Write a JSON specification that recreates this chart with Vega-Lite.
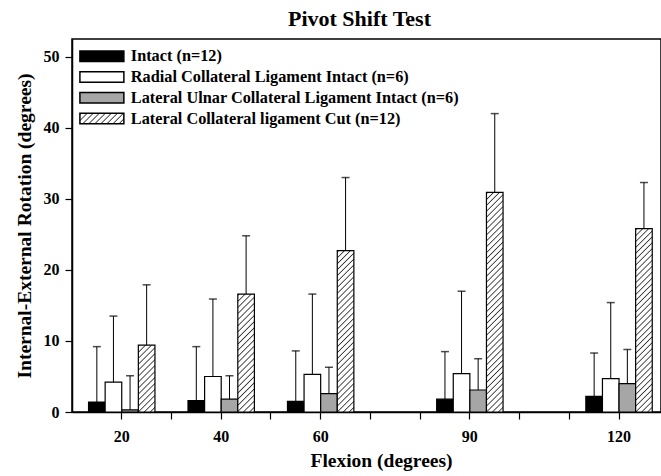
{
  "$schema": "https://vega.github.io/schema/vega-lite/v6.json",
  "autosize": {"type": "none"},
  "width": 589,
  "height": 373,
  "padding": {"left": 72, "top": 39, "right": 0, "bottom": 64},
  "background": "white",
  "config": {
    "view": {"stroke": "black", "strokeWidth": 1.5},
    "font": "Liberation Serif"
  },
  "title": {"text": "Pivot Shift Test", "font": "Liberation Serif", "fontWeight": "bold", "fontSize": 22, "color": "black", "anchor": "middle", "frame": "group", "offset": 8, "dx": -7},
  "data": {
    "values": [
      {"flexion": 20, "group": "Intact (n=12)", "mean": 1.4, "upper": 9.2},
      {"flexion": 20, "group": "Radial Collateral Ligament Intact (n=6)", "mean": 4.2, "upper": 13.5},
      {"flexion": 20, "group": "Lateral Ulnar Collateral Ligament Intact (n=6)", "mean": 0.3, "upper": 5.1},
      {"flexion": 20, "group": "Lateral Collateral ligament Cut (n=12)", "mean": 9.4, "upper": 17.9},
      {"flexion": 40, "group": "Intact (n=12)", "mean": 1.6, "upper": 9.2},
      {"flexion": 40, "group": "Radial Collateral Ligament Intact (n=6)", "mean": 5.0, "upper": 15.9},
      {"flexion": 40, "group": "Lateral Ulnar Collateral Ligament Intact (n=6)", "mean": 1.8, "upper": 5.1},
      {"flexion": 40, "group": "Lateral Collateral ligament Cut (n=12)", "mean": 16.6, "upper": 24.8},
      {"flexion": 60, "group": "Intact (n=12)", "mean": 1.5, "upper": 8.6},
      {"flexion": 60, "group": "Radial Collateral Ligament Intact (n=6)", "mean": 5.3, "upper": 16.6},
      {"flexion": 60, "group": "Lateral Ulnar Collateral Ligament Intact (n=6)", "mean": 2.6, "upper": 6.3},
      {"flexion": 60, "group": "Lateral Collateral ligament Cut (n=12)", "mean": 22.7, "upper": 33.0},
      {"flexion": 90, "group": "Intact (n=12)", "mean": 1.8, "upper": 8.5},
      {"flexion": 90, "group": "Radial Collateral Ligament Intact (n=6)", "mean": 5.4, "upper": 17.0},
      {"flexion": 90, "group": "Lateral Ulnar Collateral Ligament Intact (n=6)", "mean": 3.1, "upper": 7.5},
      {"flexion": 90, "group": "Lateral Collateral ligament Cut (n=12)", "mean": 30.9, "upper": 42.0},
      {"flexion": 120, "group": "Intact (n=12)", "mean": 2.2, "upper": 8.3},
      {"flexion": 120, "group": "Radial Collateral Ligament Intact (n=6)", "mean": 4.7, "upper": 15.4},
      {"flexion": 120, "group": "Lateral Ulnar Collateral Ligament Intact (n=6)", "mean": 4.0, "upper": 8.8},
      {"flexion": 120, "group": "Lateral Collateral ligament Cut (n=12)", "mean": 25.8, "upper": 32.3}
    ]
  },
  "encoding": {
    "x": {
      "field": "flexion", "type": "ordinal",
      "scale": {"type": "band", "domain": [20, 30, 40, 50, 60, 70, 80, 90, 100, 110, 120], "paddingInner": 0, "paddingOuter": 0.422, "align": 0.592},
      "axis": {
        "title": "Flexion (degrees)",
        "labelExpr": "indexof([20,40,60,90,120], +datum.value) >= 0 ? datum.label : ''",
        "labelAngle": 0,
        "grid": false, "domainColor": "black", "domainWidth": 1.5,
        "tickColor": "black", "tickSize": 7, "tickWidth": 1.2,
        "labelFont": "Liberation Serif", "labelFontWeight": "bold", "labelFontSize": 16, "labelColor": "black", "labelPadding": 9,
        "titleFont": "Liberation Serif", "titleFontWeight": "bold", "titleFontSize": 19.5, "titleColor": "black", "titlePadding": 7, "titleX": 309
      }
    },
    "xOffset": {
      "field": "group", "type": "nominal",
      "scale": {"domain": ["Intact (n=12)", "Radial Collateral Ligament Intact (n=6)", "Lateral Ulnar Collateral Ligament Intact (n=6)", "Lateral Collateral ligament Cut (n=12)"], "range": [-8.3, 58.1], "paddingInner": 0, "paddingOuter": 0}
    }
  },
  "layer": [
    {
      "mark": {"type": "bar", "stroke": "black", "strokeWidth": 1.2},
      "encoding": {
        "y": {
          "field": "mean", "type": "quantitative", "stack": null,
          "scale": {"domain": [0, 52.5], "nice": false},
          "axis": {
            "title": "Internal-External Rotation (degrees)",
            "values": [0, 10, 20, 30, 40, 50],
            "grid": false, "domainColor": "black", "domainWidth": 1.5,
            "tickColor": "black", "tickSize": 7, "tickWidth": 1.2,
            "labelFont": "Liberation Serif", "labelFontWeight": "bold", "labelFontSize": 16, "labelColor": "black", "labelPadding": 6,
            "titleFont": "Liberation Serif", "titleFontWeight": "bold", "titleFontSize": 19.5, "titleColor": "black", "titlePadding": 9
          }
        },
        "fill": {
          "condition": [
            {"test": "datum.flexion === 20 && indexof(datum.group, 'Cut') >= 0", "value": {"gradient": "linear", "x1": 0, "y1": 0, "x2": 0.2917, "y2": 1.1757, "stops": [
              {"offset":0,"color":"#fff"},{"offset":0.0143,"color":"#333"},{"offset":0.0286,"color":"#fff"},
              {"offset":0.0714,"color":"#fff"},{"offset":0.0857,"color":"#333"},{"offset":0.1,"color":"#fff"},
              {"offset":0.1429,"color":"#fff"},{"offset":0.1571,"color":"#333"},{"offset":0.1714,"color":"#fff"},
              {"offset":0.2143,"color":"#fff"},{"offset":0.2286,"color":"#333"},{"offset":0.2429,"color":"#fff"},
              {"offset":0.2857,"color":"#fff"},{"offset":0.3,"color":"#333"},{"offset":0.3143,"color":"#fff"},
              {"offset":0.3571,"color":"#fff"},{"offset":0.3714,"color":"#333"},{"offset":0.3857,"color":"#fff"},
              {"offset":0.4286,"color":"#fff"},{"offset":0.4429,"color":"#333"},{"offset":0.4571,"color":"#fff"},
              {"offset":0.5,"color":"#fff"},{"offset":0.5143,"color":"#333"},{"offset":0.5286,"color":"#fff"},
              {"offset":0.5714,"color":"#fff"},{"offset":0.5857,"color":"#333"},{"offset":0.6,"color":"#fff"},
              {"offset":0.6429,"color":"#fff"},{"offset":0.6571,"color":"#333"},{"offset":0.6714,"color":"#fff"},
              {"offset":0.7143,"color":"#fff"},{"offset":0.7286,"color":"#333"},{"offset":0.7429,"color":"#fff"},
              {"offset":0.7857,"color":"#fff"},{"offset":0.8,"color":"#333"},{"offset":0.8143,"color":"#fff"},
              {"offset":0.8571,"color":"#fff"},{"offset":0.8714,"color":"#333"},{"offset":0.8857,"color":"#fff"},
              {"offset":0.9286,"color":"#fff"},{"offset":0.9429,"color":"#333"},{"offset":0.9571,"color":"#fff"},
              {"offset":1,"color":"#fff"}]}},
            {"test": "datum.flexion === 40 && indexof(datum.group, 'Cut') >= 0", "value": {"gradient": "linear", "x1": 0, "y1": 0, "x2": 0.1571, "y2": 1.1184, "stops": [
              {"offset":0,"color":"#fff"},{"offset":0.0091,"color":"#333"},{"offset":0.0182,"color":"#fff"},
              {"offset":0.0455,"color":"#fff"},{"offset":0.0545,"color":"#333"},{"offset":0.0636,"color":"#fff"},
              {"offset":0.0909,"color":"#fff"},{"offset":0.1,"color":"#333"},{"offset":0.1091,"color":"#fff"},
              {"offset":0.1364,"color":"#fff"},{"offset":0.1455,"color":"#333"},{"offset":0.1545,"color":"#fff"},
              {"offset":0.1818,"color":"#fff"},{"offset":0.1909,"color":"#333"},{"offset":0.2,"color":"#fff"},
              {"offset":0.2273,"color":"#fff"},{"offset":0.2364,"color":"#333"},{"offset":0.2455,"color":"#fff"},
              {"offset":0.2727,"color":"#fff"},{"offset":0.2818,"color":"#333"},{"offset":0.2909,"color":"#fff"},
              {"offset":0.3182,"color":"#fff"},{"offset":0.3273,"color":"#333"},{"offset":0.3364,"color":"#fff"},
              {"offset":0.3636,"color":"#fff"},{"offset":0.3727,"color":"#333"},{"offset":0.3818,"color":"#fff"},
              {"offset":0.4091,"color":"#fff"},{"offset":0.4182,"color":"#333"},{"offset":0.4273,"color":"#fff"},
              {"offset":0.4545,"color":"#fff"},{"offset":0.4636,"color":"#333"},{"offset":0.4727,"color":"#fff"},
              {"offset":0.5,"color":"#fff"},{"offset":0.5091,"color":"#333"},{"offset":0.5182,"color":"#fff"},
              {"offset":0.5455,"color":"#fff"},{"offset":0.5545,"color":"#333"},{"offset":0.5636,"color":"#fff"},
              {"offset":0.5909,"color":"#fff"},{"offset":0.6,"color":"#333"},{"offset":0.6091,"color":"#fff"},
              {"offset":0.6364,"color":"#fff"},{"offset":0.6455,"color":"#333"},{"offset":0.6545,"color":"#fff"},
              {"offset":0.6818,"color":"#fff"},{"offset":0.6909,"color":"#333"},{"offset":0.7,"color":"#fff"},
              {"offset":0.7273,"color":"#fff"},{"offset":0.7364,"color":"#333"},{"offset":0.7455,"color":"#fff"},
              {"offset":0.7727,"color":"#fff"},{"offset":0.7818,"color":"#333"},{"offset":0.7909,"color":"#fff"},
              {"offset":0.8182,"color":"#fff"},{"offset":0.8273,"color":"#333"},{"offset":0.8364,"color":"#fff"},
              {"offset":0.8636,"color":"#fff"},{"offset":0.8727,"color":"#333"},{"offset":0.8818,"color":"#fff"},
              {"offset":0.9091,"color":"#fff"},{"offset":0.9182,"color":"#333"},{"offset":0.9273,"color":"#fff"},
              {"offset":0.9545,"color":"#fff"},{"offset":0.9636,"color":"#333"},{"offset":0.9727,"color":"#fff"},
              {"offset":1,"color":"#fff"}]}},
            {"test": "datum.flexion === 60 && indexof(datum.group, 'Cut') >= 0", "value": {"gradient": "linear", "x1": 0, "y1": 0, "x2": 0.1121, "y2": 1.0912, "stops": [
              {"offset":0,"color":"#fff"},{"offset":0.0067,"color":"#333"},{"offset":0.0133,"color":"#fff"},
              {"offset":0.0333,"color":"#fff"},{"offset":0.04,"color":"#333"},{"offset":0.0467,"color":"#fff"},
              {"offset":0.0667,"color":"#fff"},{"offset":0.0733,"color":"#333"},{"offset":0.08,"color":"#fff"},
              {"offset":0.1,"color":"#fff"},{"offset":0.1067,"color":"#333"},{"offset":0.1133,"color":"#fff"},
              {"offset":0.1333,"color":"#fff"},{"offset":0.14,"color":"#333"},{"offset":0.1467,"color":"#fff"},
              {"offset":0.1667,"color":"#fff"},{"offset":0.1733,"color":"#333"},{"offset":0.18,"color":"#fff"},
              {"offset":0.2,"color":"#fff"},{"offset":0.2067,"color":"#333"},{"offset":0.2133,"color":"#fff"},
              {"offset":0.2333,"color":"#fff"},{"offset":0.24,"color":"#333"},{"offset":0.2467,"color":"#fff"},
              {"offset":0.2667,"color":"#fff"},{"offset":0.2733,"color":"#333"},{"offset":0.28,"color":"#fff"},
              {"offset":0.3,"color":"#fff"},{"offset":0.3067,"color":"#333"},{"offset":0.3133,"color":"#fff"},
              {"offset":0.3333,"color":"#fff"},{"offset":0.34,"color":"#333"},{"offset":0.3467,"color":"#fff"},
              {"offset":0.3667,"color":"#fff"},{"offset":0.3733,"color":"#333"},{"offset":0.38,"color":"#fff"},
              {"offset":0.4,"color":"#fff"},{"offset":0.4067,"color":"#333"},{"offset":0.4133,"color":"#fff"},
              {"offset":0.4333,"color":"#fff"},{"offset":0.44,"color":"#333"},{"offset":0.4467,"color":"#fff"},
              {"offset":0.4667,"color":"#fff"},{"offset":0.4733,"color":"#333"},{"offset":0.48,"color":"#fff"},
              {"offset":0.5,"color":"#fff"},{"offset":0.5067,"color":"#333"},{"offset":0.5133,"color":"#fff"},
              {"offset":0.5333,"color":"#fff"},{"offset":0.54,"color":"#333"},{"offset":0.5467,"color":"#fff"},
              {"offset":0.5667,"color":"#fff"},{"offset":0.5733,"color":"#333"},{"offset":0.58,"color":"#fff"},
              {"offset":0.6,"color":"#fff"},{"offset":0.6067,"color":"#333"},{"offset":0.6133,"color":"#fff"},
              {"offset":0.6333,"color":"#fff"},{"offset":0.64,"color":"#333"},{"offset":0.6467,"color":"#fff"},
              {"offset":0.6667,"color":"#fff"},{"offset":0.6733,"color":"#333"},{"offset":0.68,"color":"#fff"},
              {"offset":0.7,"color":"#fff"},{"offset":0.7067,"color":"#333"},{"offset":0.7133,"color":"#fff"},
              {"offset":0.7333,"color":"#fff"},{"offset":0.74,"color":"#333"},{"offset":0.7467,"color":"#fff"},
              {"offset":0.7667,"color":"#fff"},{"offset":0.7733,"color":"#333"},{"offset":0.78,"color":"#fff"},
              {"offset":0.8,"color":"#fff"},{"offset":0.8067,"color":"#333"},{"offset":0.8133,"color":"#fff"},
              {"offset":0.8333,"color":"#fff"},{"offset":0.84,"color":"#333"},{"offset":0.8467,"color":"#fff"},
              {"offset":0.8667,"color":"#fff"},{"offset":0.8733,"color":"#333"},{"offset":0.88,"color":"#fff"},
              {"offset":0.9,"color":"#fff"},{"offset":0.9067,"color":"#333"},{"offset":0.9133,"color":"#fff"},
              {"offset":0.9333,"color":"#fff"},{"offset":0.94,"color":"#333"},{"offset":0.9467,"color":"#fff"},
              {"offset":0.9667,"color":"#fff"},{"offset":0.9733,"color":"#333"},{"offset":0.98,"color":"#fff"},
              {"offset":1,"color":"#fff"}]}},
            {"test": "datum.flexion === 90 && indexof(datum.group, 'Cut') >= 0", "value": {"gradient": "linear", "x1": 0, "y1": 0, "x2": 0.0807, "y2": 1.0694, "stops": [
              {"offset":0,"color":"#fff"},{"offset":0.005,"color":"#333"},{"offset":0.01,"color":"#fff"},
              {"offset":0.025,"color":"#fff"},{"offset":0.03,"color":"#333"},{"offset":0.035,"color":"#fff"},
              {"offset":0.05,"color":"#fff"},{"offset":0.055,"color":"#333"},{"offset":0.06,"color":"#fff"},
              {"offset":0.075,"color":"#fff"},{"offset":0.08,"color":"#333"},{"offset":0.085,"color":"#fff"},
              {"offset":0.1,"color":"#fff"},{"offset":0.105,"color":"#333"},{"offset":0.11,"color":"#fff"},
              {"offset":0.125,"color":"#fff"},{"offset":0.13,"color":"#333"},{"offset":0.135,"color":"#fff"},
              {"offset":0.15,"color":"#fff"},{"offset":0.155,"color":"#333"},{"offset":0.16,"color":"#fff"},
              {"offset":0.175,"color":"#fff"},{"offset":0.18,"color":"#333"},{"offset":0.185,"color":"#fff"},
              {"offset":0.2,"color":"#fff"},{"offset":0.205,"color":"#333"},{"offset":0.21,"color":"#fff"},
              {"offset":0.225,"color":"#fff"},{"offset":0.23,"color":"#333"},{"offset":0.235,"color":"#fff"},
              {"offset":0.25,"color":"#fff"},{"offset":0.255,"color":"#333"},{"offset":0.26,"color":"#fff"},
              {"offset":0.275,"color":"#fff"},{"offset":0.28,"color":"#333"},{"offset":0.285,"color":"#fff"},
              {"offset":0.3,"color":"#fff"},{"offset":0.305,"color":"#333"},{"offset":0.31,"color":"#fff"},
              {"offset":0.325,"color":"#fff"},{"offset":0.33,"color":"#333"},{"offset":0.335,"color":"#fff"},
              {"offset":0.35,"color":"#fff"},{"offset":0.355,"color":"#333"},{"offset":0.36,"color":"#fff"},
              {"offset":0.375,"color":"#fff"},{"offset":0.38,"color":"#333"},{"offset":0.385,"color":"#fff"},
              {"offset":0.4,"color":"#fff"},{"offset":0.405,"color":"#333"},{"offset":0.41,"color":"#fff"},
              {"offset":0.425,"color":"#fff"},{"offset":0.43,"color":"#333"},{"offset":0.435,"color":"#fff"},
              {"offset":0.45,"color":"#fff"},{"offset":0.455,"color":"#333"},{"offset":0.46,"color":"#fff"},
              {"offset":0.475,"color":"#fff"},{"offset":0.48,"color":"#333"},{"offset":0.485,"color":"#fff"},
              {"offset":0.5,"color":"#fff"},{"offset":0.505,"color":"#333"},{"offset":0.51,"color":"#fff"},
              {"offset":0.525,"color":"#fff"},{"offset":0.53,"color":"#333"},{"offset":0.535,"color":"#fff"},
              {"offset":0.55,"color":"#fff"},{"offset":0.555,"color":"#333"},{"offset":0.56,"color":"#fff"},
              {"offset":0.575,"color":"#fff"},{"offset":0.58,"color":"#333"},{"offset":0.585,"color":"#fff"},
              {"offset":0.6,"color":"#fff"},{"offset":0.605,"color":"#333"},{"offset":0.61,"color":"#fff"},
              {"offset":0.625,"color":"#fff"},{"offset":0.63,"color":"#333"},{"offset":0.635,"color":"#fff"},
              {"offset":0.65,"color":"#fff"},{"offset":0.655,"color":"#333"},{"offset":0.66,"color":"#fff"},
              {"offset":0.675,"color":"#fff"},{"offset":0.68,"color":"#333"},{"offset":0.685,"color":"#fff"},
              {"offset":0.7,"color":"#fff"},{"offset":0.705,"color":"#333"},{"offset":0.71,"color":"#fff"},
              {"offset":0.725,"color":"#fff"},{"offset":0.73,"color":"#333"},{"offset":0.735,"color":"#fff"},
              {"offset":0.75,"color":"#fff"},{"offset":0.755,"color":"#333"},{"offset":0.76,"color":"#fff"},
              {"offset":0.775,"color":"#fff"},{"offset":0.78,"color":"#333"},{"offset":0.785,"color":"#fff"},
              {"offset":0.8,"color":"#fff"},{"offset":0.805,"color":"#333"},{"offset":0.81,"color":"#fff"},
              {"offset":0.825,"color":"#fff"},{"offset":0.83,"color":"#333"},{"offset":0.835,"color":"#fff"},
              {"offset":0.85,"color":"#fff"},{"offset":0.855,"color":"#333"},{"offset":0.86,"color":"#fff"},
              {"offset":0.875,"color":"#fff"},{"offset":0.88,"color":"#333"},{"offset":0.885,"color":"#fff"},
              {"offset":0.9,"color":"#fff"},{"offset":0.905,"color":"#333"},{"offset":0.91,"color":"#fff"},
              {"offset":0.925,"color":"#fff"},{"offset":0.93,"color":"#333"},{"offset":0.935,"color":"#fff"},
              {"offset":0.95,"color":"#fff"},{"offset":0.955,"color":"#333"},{"offset":0.96,"color":"#fff"},
              {"offset":0.975,"color":"#fff"},{"offset":0.98,"color":"#333"},{"offset":0.985,"color":"#fff"},
              {"offset":1,"color":"#fff"}]}},
            {"test": "datum.flexion === 120 && indexof(datum.group, 'Cut') >= 0", "value": {"gradient": "linear", "x1": 0, "y1": 0, "x2": 0.0977, "y2": 1.0815, "stops": [
              {"offset":0,"color":"#fff"},{"offset":0.0059,"color":"#333"},{"offset":0.0118,"color":"#fff"},
              {"offset":0.0294,"color":"#fff"},{"offset":0.0353,"color":"#333"},{"offset":0.0412,"color":"#fff"},
              {"offset":0.0588,"color":"#fff"},{"offset":0.0647,"color":"#333"},{"offset":0.0706,"color":"#fff"},
              {"offset":0.0882,"color":"#fff"},{"offset":0.0941,"color":"#333"},{"offset":0.1,"color":"#fff"},
              {"offset":0.1176,"color":"#fff"},{"offset":0.1235,"color":"#333"},{"offset":0.1294,"color":"#fff"},
              {"offset":0.1471,"color":"#fff"},{"offset":0.1529,"color":"#333"},{"offset":0.1588,"color":"#fff"},
              {"offset":0.1765,"color":"#fff"},{"offset":0.1824,"color":"#333"},{"offset":0.1882,"color":"#fff"},
              {"offset":0.2059,"color":"#fff"},{"offset":0.2118,"color":"#333"},{"offset":0.2176,"color":"#fff"},
              {"offset":0.2353,"color":"#fff"},{"offset":0.2412,"color":"#333"},{"offset":0.2471,"color":"#fff"},
              {"offset":0.2647,"color":"#fff"},{"offset":0.2706,"color":"#333"},{"offset":0.2765,"color":"#fff"},
              {"offset":0.2941,"color":"#fff"},{"offset":0.3,"color":"#333"},{"offset":0.3059,"color":"#fff"},
              {"offset":0.3235,"color":"#fff"},{"offset":0.3294,"color":"#333"},{"offset":0.3353,"color":"#fff"},
              {"offset":0.3529,"color":"#fff"},{"offset":0.3588,"color":"#333"},{"offset":0.3647,"color":"#fff"},
              {"offset":0.3824,"color":"#fff"},{"offset":0.3882,"color":"#333"},{"offset":0.3941,"color":"#fff"},
              {"offset":0.4118,"color":"#fff"},{"offset":0.4176,"color":"#333"},{"offset":0.4235,"color":"#fff"},
              {"offset":0.4412,"color":"#fff"},{"offset":0.4471,"color":"#333"},{"offset":0.4529,"color":"#fff"},
              {"offset":0.4706,"color":"#fff"},{"offset":0.4765,"color":"#333"},{"offset":0.4824,"color":"#fff"},
              {"offset":0.5,"color":"#fff"},{"offset":0.5059,"color":"#333"},{"offset":0.5118,"color":"#fff"},
              {"offset":0.5294,"color":"#fff"},{"offset":0.5353,"color":"#333"},{"offset":0.5412,"color":"#fff"},
              {"offset":0.5588,"color":"#fff"},{"offset":0.5647,"color":"#333"},{"offset":0.5706,"color":"#fff"},
              {"offset":0.5882,"color":"#fff"},{"offset":0.5941,"color":"#333"},{"offset":0.6,"color":"#fff"},
              {"offset":0.6176,"color":"#fff"},{"offset":0.6235,"color":"#333"},{"offset":0.6294,"color":"#fff"},
              {"offset":0.6471,"color":"#fff"},{"offset":0.6529,"color":"#333"},{"offset":0.6588,"color":"#fff"},
              {"offset":0.6765,"color":"#fff"},{"offset":0.6824,"color":"#333"},{"offset":0.6882,"color":"#fff"},
              {"offset":0.7059,"color":"#fff"},{"offset":0.7118,"color":"#333"},{"offset":0.7176,"color":"#fff"},
              {"offset":0.7353,"color":"#fff"},{"offset":0.7412,"color":"#333"},{"offset":0.7471,"color":"#fff"},
              {"offset":0.7647,"color":"#fff"},{"offset":0.7706,"color":"#333"},{"offset":0.7765,"color":"#fff"},
              {"offset":0.7941,"color":"#fff"},{"offset":0.8,"color":"#333"},{"offset":0.8059,"color":"#fff"},
              {"offset":0.8235,"color":"#fff"},{"offset":0.8294,"color":"#333"},{"offset":0.8353,"color":"#fff"},
              {"offset":0.8529,"color":"#fff"},{"offset":0.8588,"color":"#333"},{"offset":0.8647,"color":"#fff"},
              {"offset":0.8824,"color":"#fff"},{"offset":0.8882,"color":"#333"},{"offset":0.8941,"color":"#fff"},
              {"offset":0.9118,"color":"#fff"},{"offset":0.9176,"color":"#333"},{"offset":0.9235,"color":"#fff"},
              {"offset":0.9412,"color":"#fff"},{"offset":0.9471,"color":"#333"},{"offset":0.9529,"color":"#fff"},
              {"offset":0.9706,"color":"#fff"},{"offset":0.9765,"color":"#333"},{"offset":0.9824,"color":"#fff"},
              {"offset":1,"color":"#fff"}]}}
          ],
          "field": "group", "type": "nominal",
          "scale": {
            "domain": ["Intact (n=12)", "Radial Collateral Ligament Intact (n=6)", "Lateral Ulnar Collateral Ligament Intact (n=6)", "Lateral Collateral ligament Cut (n=12)"],
            "range": ["black", "white", "#a6a6a6", {"expr": "({gradient: 'linear', x1: 0, y1: 0, x2: 1.172, y2: 0.2797, stops: [{offset: 0, color: '#fff'}, {offset: 0.0222, color: '#333'}, {offset: 0.0444, color: '#fff'}, {offset: 0.1111, color: '#fff'}, {offset: 0.1333, color: '#333'}, {offset: 0.1556, color: '#fff'}, {offset: 0.2222, color: '#fff'}, {offset: 0.2444, color: '#333'}, {offset: 0.2667, color: '#fff'}, {offset: 0.3333, color: '#fff'}, {offset: 0.3556, color: '#333'}, {offset: 0.3778, color: '#fff'}, {offset: 0.4444, color: '#fff'}, {offset: 0.4667, color: '#333'}, {offset: 0.4889, color: '#fff'}, {offset: 0.5556, color: '#fff'}, {offset: 0.5778, color: '#333'}, {offset: 0.6, color: '#fff'}, {offset: 0.6667, color: '#fff'}, {offset: 0.6889, color: '#333'}, {offset: 0.7111, color: '#fff'}, {offset: 0.7778, color: '#fff'}, {offset: 0.8, color: '#333'}, {offset: 0.8222, color: '#fff'}, {offset: 0.8889, color: '#fff'}, {offset: 0.9111, color: '#333'}, {offset: 0.9333, color: '#fff'}, {offset: 1, color: '#fff'}]})"}]
          },
          "legend": {
            "title": null, "orient": "top-left", "offset": 9, "padding": 0,
            "symbolType": "M-1.762,-1H6.619V1H-1.762Z", "symbolSize": 110,
            "symbolStrokeColor": "black", "symbolStrokeWidth": 1.5, "symbolOpacity": 1,
            "labelFont": "Liberation Serif", "labelFontWeight": "bold", "labelFontSize": 16.3, "labelColor": "black",
            "labelOffset": 33.5, "rowPadding": 2.8, "labelLimit": 600,
            "encode": {
              "symbols": {
                "update": {
                  "stroke": {"value": "black"},
                  "strokeWidth": {"value": 1.5}
                }
              }
            }
          }
        }
      }
    },
    {
      "mark": {"type": "rule", "color": "black", "strokeWidth": 1},
      "encoding": {
        "y": {"field": "mean", "type": "quantitative"},
        "y2": {"field": "upper"}
      }
    },
    {
      "mark": {"type": "tick", "orient": "horizontal", "color": "black", "size": 8, "thickness": 1.5},
      "encoding": {
        "y": {"field": "upper", "type": "quantitative"}
      }
    }
  ]
}
